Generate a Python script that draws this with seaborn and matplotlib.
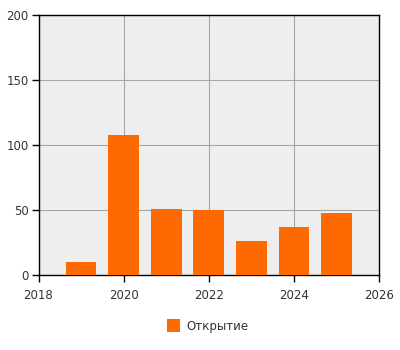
import matplotlib
matplotlib.use("Agg")
import matplotlib.pyplot as plt
import seaborn as sns
import pandas as pd
from matplotlib.patches import Patch

years = [2019, 2020, 2021, 2022, 2023, 2024, 2025]
values = [10, 108, 51, 50, 26, 37, 48]
series_name = "Открытие"
x_ticks = [2018, 2020, 2022, 2024, 2026]
y_ticks = [0, 50, 100, 150, 200]

sns.set_style("white")
plt.rcParams['font.family'] = ['DejaVu Sans']

df = pd.DataFrame({"year": years, "value": values})

fig = plt.figure(figsize=(4, 3.5), dpi=100)
ax = fig.add_axes([38.5/400, 1 - 275/350, (379 - 38.5)/400, (275 - 15)/350])
ax.set_facecolor("#EEEEEE")

sns.barplot(data=df, x="year", y="value", native_scale=True, width=0.72,
            color="#FF6A00", saturation=1, ax=ax, zorder=3, edgecolor="none")

ax.set_xlim(2018, 2026)
ax.set_ylim(0, 200)
ax.set_xticks(x_ticks)
ax.set_yticks(y_ticks)
ax.set_xticklabels([str(t) for t in x_ticks])
ax.grid(True, color="#A6A6A6", linewidth=0.8, zorder=0)
ax.set_axisbelow(True)
ax.set_xlabel("")
ax.set_ylabel("")
for s in ax.spines.values():
    s.set_visible(True)
    s.set_color("black")
    s.set_linewidth(1)
ax.tick_params(axis="both", which="major", bottom=True, left=True, top=False, right=False,
               direction="out", length=5, width=1, color="black",
               labelsize=8.5, labelcolor="#333333")
ax.tick_params(axis="x", pad=5)
ax.tick_params(axis="y", pad=2)

handles = [Patch(facecolor="#FF6A00", edgecolor="none", label=series_name)]
fig.legend(handles=handles, loc="center", bbox_to_anchor=(0.52, 1 - 326/350),
           frameon=False, fontsize=8.5, handlelength=1.1, handleheight=1.3,
           handletextpad=0.5, labelcolor="#333333")

fig.savefig("out.png", dpi=100, facecolor="white")
